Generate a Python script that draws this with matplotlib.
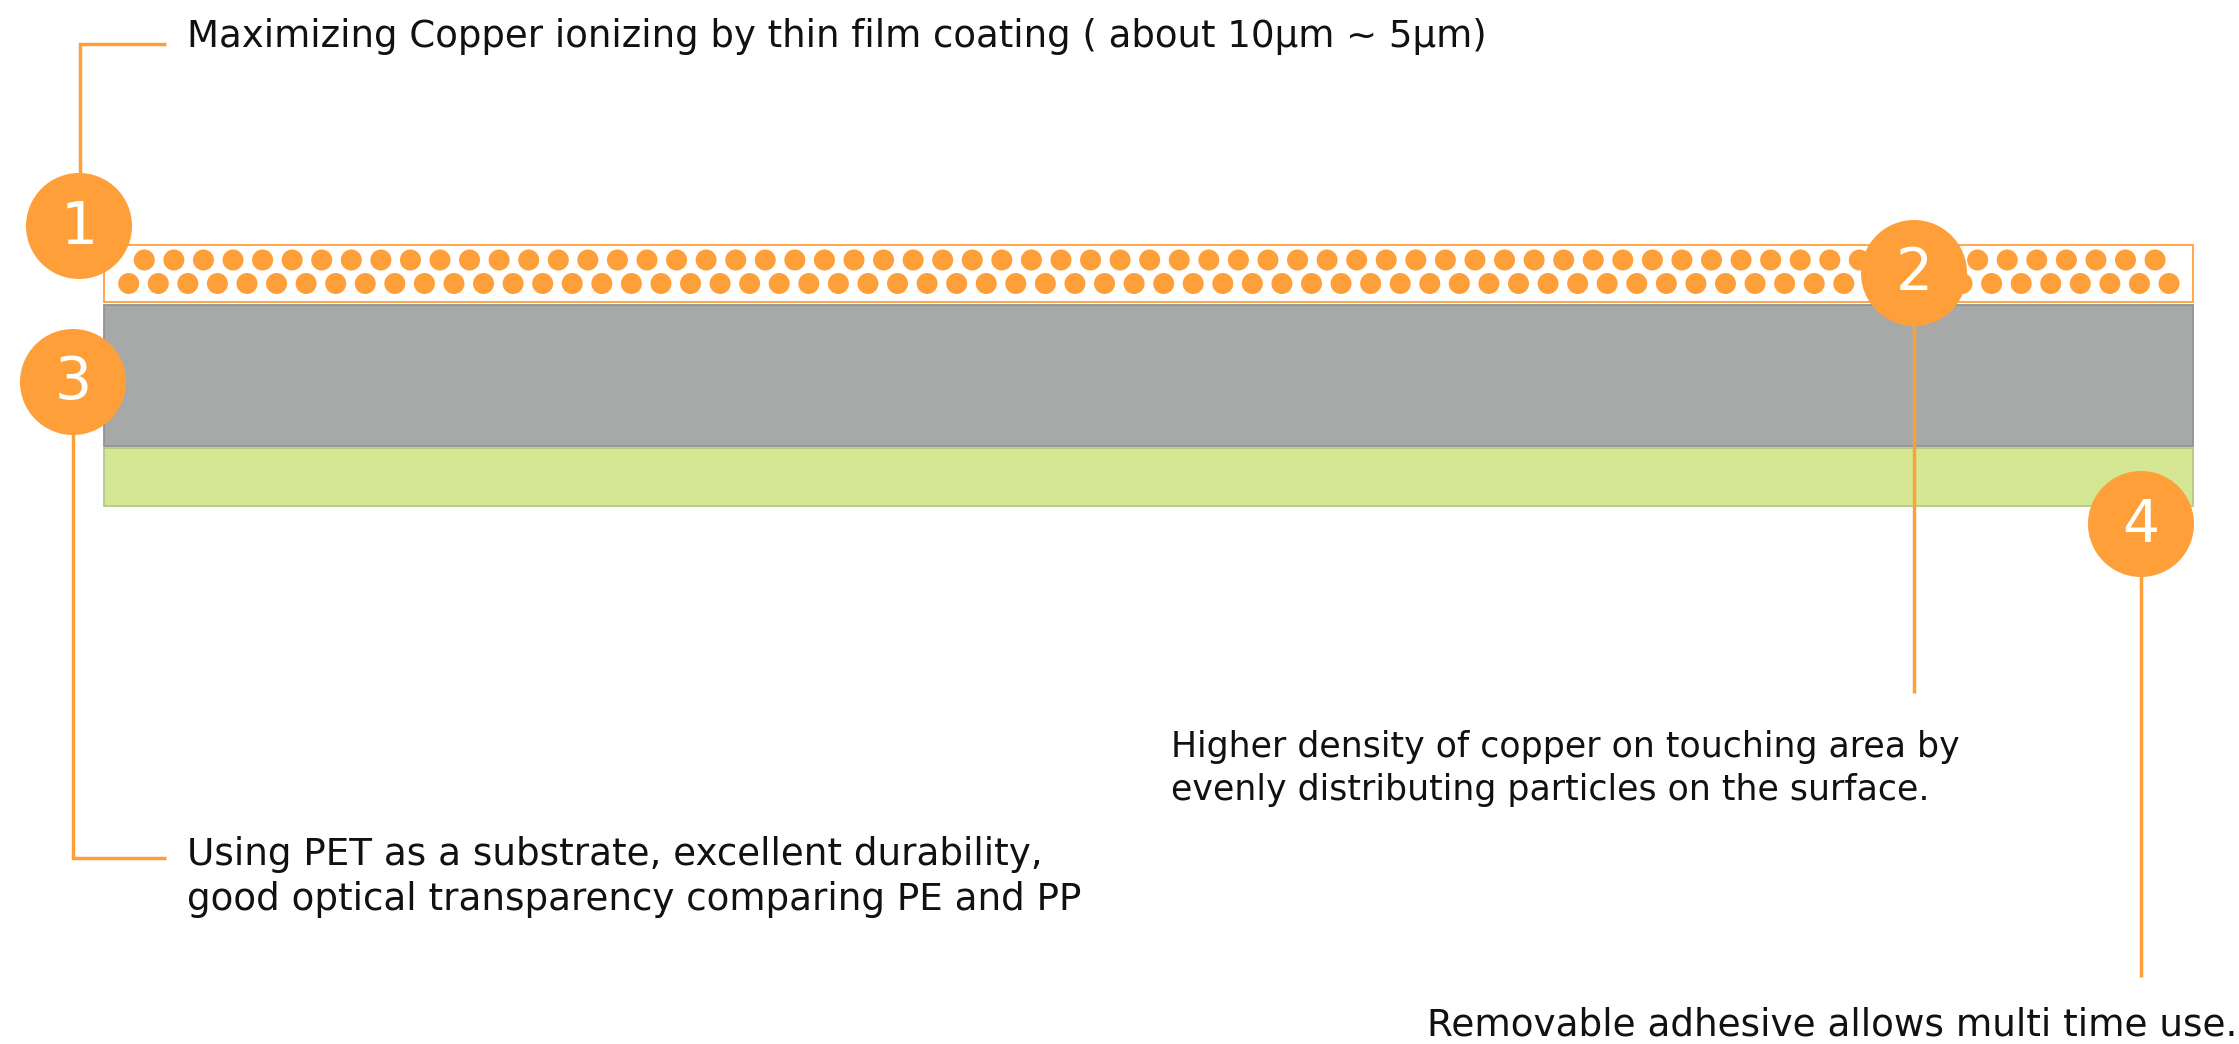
import matplotlib
matplotlib.use("Agg")
import matplotlib.pyplot as plt
from matplotlib.patches import Circle, Rectangle
import numpy as np

# ---- content ----
badge_numbers = ["1", "2", "3", "4"]
label_lines = [
    ["Maximizing Copper ionizing by thin film coating ( about 10\u03bcm ~ 5\u03bcm)"],
    ["Higher density of copper on touching area by",
     "evenly distributing particles on the surface."],
    ["Using PET as a substrate, excellent durability,",
     "good optical transparency comparing PE and PP"],
    ["Removable adhesive allows multi time use."],
]
dots_top_row = 69
dots_bottom_row = 70

# ---- styling / layout ----
ORANGE = "#FF9F3A"
GRAY = "#A6A9A8"
GRAY_EDGE = "#929292"
GREEN = "#D6E794"
GREEN_EDGE = "#B6C98A"
W, H = 2239, 1044
FONT = "DejaVu Sans"

fig = plt.figure(figsize=(W / 100, H / 100), dpi=100)
ax = fig.add_axes([0, 0, 1, 1])
ax.set_xlim(0, W)
ax.set_ylim(H, 0)
ax.axis("off")

# layers
x0, x1 = 104, 2193
ax.add_patch(Rectangle((x0, 245), x1 - x0, 57, facecolor="white",
                       edgecolor=ORANGE, lw=1.3, zorder=1))
ax.add_patch(Rectangle((x0, 305), x1 - x0, 141, facecolor=GRAY,
                       edgecolor=GRAY_EDGE, lw=1.3, zorder=1))
ax.add_patch(Rectangle((x0, 447.5), x1 - x0, 58, facecolor=GREEN,
                       edgecolor=GREEN_EDGE, lw=1.3, zorder=1))

# copper particles
pitch = 29.57
r_dot = 10.5
for cx in 144.3 + pitch * np.arange(dots_top_row):
    ax.add_patch(Circle((cx, 260), r_dot, facecolor=ORANGE, edgecolor="none", zorder=2))
for cx in 128.7 + pitch * np.arange(dots_bottom_row):
    ax.add_patch(Circle((cx, 283.5), r_dot, facecolor=ORANGE, edgecolor="none", zorder=2))

# leader lines
lw = 2.5
ax.plot([80, 80, 166], [175, 44, 44], color=ORANGE, lw=lw, zorder=3,
        solid_joinstyle="miter", solid_capstyle="butt")
ax.plot([1914, 1914], [320, 693], color=ORANGE, lw=lw, zorder=3, solid_capstyle="butt")
ax.plot([73, 73, 166], [430, 858, 858], color=ORANGE, lw=lw, zorder=3,
        solid_joinstyle="miter", solid_capstyle="butt")
ax.plot([2141, 2141], [570, 977], color=ORANGE, lw=lw, zorder=3, solid_capstyle="butt")

# badges
centers = [(79, 226), (1914, 273), (73, 382), (2141, 524)]
R = 53
for (cx, cy), num in zip(centers, badge_numbers):
    ax.add_patch(Circle((cx, cy), R, facecolor=ORANGE, edgecolor="none", zorder=4))
    ax.text(cx, cy + 1, num, color="white", fontsize=42, family=FONT,
            ha="center", va="center", zorder=5)

# labels
positions = [(187, [47]), (1171, [757, 800]), (187, [865, 910]), (1427, [1035])]
sizes = [26.7, 25.0, 26.8, 26.9]
for (tx, bases), lines, fs in zip(positions, label_lines, sizes):
    for by, line in zip(bases, lines):
        ax.text(tx, by, line, fontsize=fs, family=FONT, color="#111111",
                ha="left", va="baseline", zorder=5)

fig.savefig("out.png", dpi=100)
